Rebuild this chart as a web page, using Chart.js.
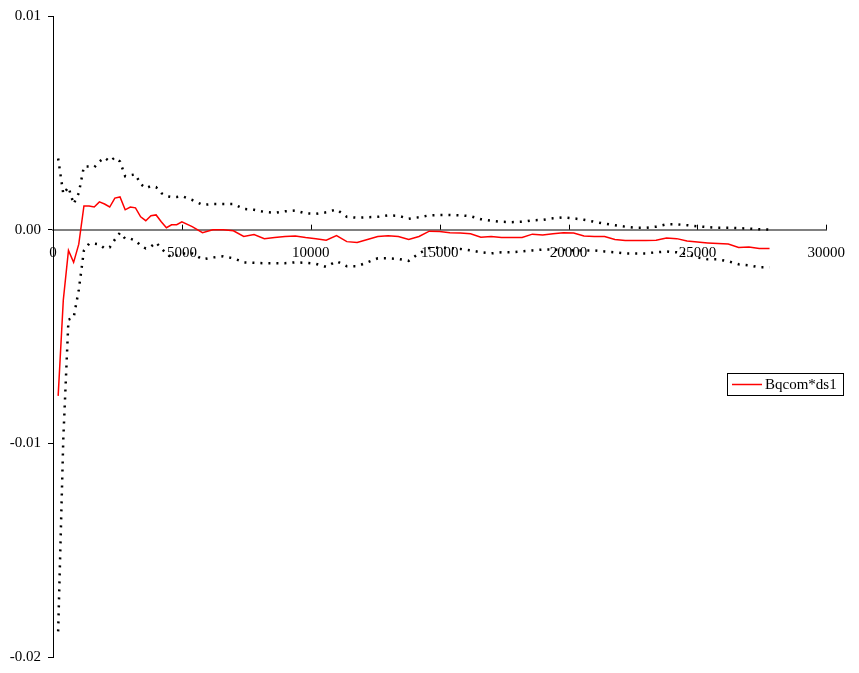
<!DOCTYPE html>
<html>
<head>
<meta charset="utf-8">
<script src="https://cdn.jsdelivr.net/npm/chart.js"></script>
<style>
    html, body { margin: 0; padding: 0; background: #fff; }
    #wrap { width: 859px; height: 673px; }
</style>
</head>
<body>
<div id="wrap"><canvas id="chart" width="859" height="673"></canvas></div>
<script>
// x positions of the samples
const xs = [200, 400, 600, 800, 1000, 1200, 1400, 1600, 1800, 2000, 2200, 2400, 2600, 2800, 3000,
    3200, 3400, 3600, 3800, 4000, 4200, 4400, 4600, 4800, 5000, 5400, 5800, 6200, 6600, 7000,
    7400, 7800, 8200, 8600, 9000, 9400, 9800, 10200, 10600, 11000, 11400, 11800, 12200, 12600,
    13000, 13400, 13800, 14200, 14600, 15000, 15400, 15800, 16200, 16600, 17000, 17400, 17800,
    18200, 18600, 19000, 19400, 19800, 20200, 20600, 21000, 21400, 21800, 22200, 22600, 23000,
    23400, 23800, 24200, 24600, 25000, 25400, 25800, 26200, 26600, 27000, 27400, 27800];

// Bqcom*ds1 (red line)
const bqcom = [-0.00778, -0.00329, -0.00097, -0.00153, -0.00068, 0.00111, 0.00111, 0.00106, 0.00130,
    0.00120, 0.00106, 0.00148, 0.00153, 0.00093, 0.00106, 0.00102, 0.00060, 0.00042, 0.00065,
    0.00069, 0.00037, 0.00009, 0.00023, 0.00023, 0.00037, 0.00014, -0.00014, 0.00000, 0.00000,
    -0.00005, -0.00032, -0.00023, -0.00042, -0.00037, -0.00032, -0.00030, -0.00037, -0.00042,
    -0.00049, -0.00028, -0.00056, -0.00060, -0.00046, -0.00032, -0.00028, -0.00032, -0.00046,
    -0.00032, -0.00007, -0.00009, -0.00014, -0.00016, -0.00019, -0.00035, -0.00032, -0.00037,
    -0.00037, -0.00037, -0.00021, -0.00025, -0.00019, -0.00014, -0.00016, -0.00030, -0.00032,
    -0.00032, -0.00046, -0.00051, -0.00051, -0.00051, -0.00049, -0.00039, -0.00042, -0.00053,
    -0.00058, -0.00062, -0.00065, -0.00067, -0.00083, -0.00081, -0.00088, -0.00088];

// upper bound (black dotted)
const upper = [0.00333, 0.00167, 0.00199, 0.00120, 0.00171, 0.00296, 0.00296, 0.00292, 0.00319,
    0.00338, 0.00319, 0.00338, 0.00319, 0.00250, 0.00255, 0.00259, 0.00213, 0.00194, 0.00204,
    0.00199, 0.00171, 0.00157, 0.00153, 0.00153, 0.00157, 0.00139, 0.00116, 0.00120, 0.00120,
    0.00120, 0.00097, 0.00093, 0.00083, 0.00079, 0.00086, 0.00090, 0.00076, 0.00074, 0.00081,
    0.00095, 0.00060, 0.00056, 0.00058, 0.00060, 0.00067, 0.00065, 0.00051, 0.00058, 0.00067,
    0.00069, 0.00069, 0.00067, 0.00063, 0.00049, 0.00042, 0.00037, 0.00035, 0.00037, 0.00044,
    0.00046, 0.00053, 0.00058, 0.00053, 0.00046, 0.00037, 0.00028, 0.00021, 0.00014, 0.00009,
    0.00009, 0.00014, 0.00025, 0.00025, 0.00021, 0.00016, 0.00012, 0.00009, 0.00009, 0.00007,
    0.00005, 0.00002, 0.00000];

// lower bound (black dotted)
const lower = [-0.01880, -0.00977, -0.00421, -0.00412, -0.00282, -0.00097, -0.00065, -0.00065,
    -0.00069, -0.00088, -0.00083, -0.00046, -0.00014, -0.00042, -0.00042, -0.00051, -0.00074,
    -0.00088, -0.00079, -0.00060, -0.00088, -0.00111, -0.00130, -0.00120, -0.00111, -0.00111,
    -0.00139, -0.00130, -0.00125, -0.00134, -0.00153, -0.00155, -0.00157, -0.00157, -0.00157,
    -0.00153, -0.00155, -0.00160, -0.00174, -0.00148, -0.00171, -0.00171, -0.00153, -0.00134,
    -0.00134, -0.00137, -0.00146, -0.00111, -0.00086, -0.00083, -0.00086, -0.00090, -0.00097,
    -0.00106, -0.00111, -0.00106, -0.00106, -0.00102, -0.00097, -0.00093, -0.00093, -0.00095,
    -0.00097, -0.00097, -0.00097, -0.00102, -0.00106, -0.00111, -0.00111, -0.00111, -0.00106,
    -0.00102, -0.00106, -0.00116, -0.00130, -0.00139, -0.00139, -0.00148, -0.00162, -0.00167,
    -0.00176, -0.00176];

// axis ranges
const xMin = 0, xMax = 30000, xStep = 5000;
const yMin = -0.02, yMax = 0.01, yStep = 0.01;

const FONT = 'Liberation Serif, Times New Roman, serif';

function toPoints(ys) {
    return xs.map((x, i) => ({ x: x, y: ys[i] }));
}

// small tick marks pointing up from the x axis, plus the boxed legend on the right
const extras = {
    id: 'extras',
    afterDraw(chart) {
        const ctx = chart.ctx;
        const xScale = chart.scales.x;
        const y0 = chart.scales.y.getPixelForValue(0);
        ctx.save();
        ctx.strokeStyle = '#000';
        ctx.lineWidth = 1;
        for (let v = xMin + xStep; v <= xMax; v += xStep) {
            const px = Math.round(xScale.getPixelForValue(v)) + 0.5;
            ctx.beginPath();
            ctx.moveTo(px, y0 - 5);
            ctx.lineTo(px, y0);
            ctx.stroke();
        }

        // legend
        const ds = chart.data.datasets[0];
        const bx = 727, by = 373, bw = 116, bh = 22;
        ctx.fillStyle = '#fff';
        ctx.fillRect(bx, by, bw, bh);
        ctx.strokeStyle = '#000';
        ctx.strokeRect(bx + 0.5, by + 0.5, bw, bh);
        ctx.strokeStyle = ds.borderColor;
        ctx.lineWidth = 1.5;
        ctx.beginPath();
        ctx.moveTo(bx + 5, by + 11.5);
        ctx.lineTo(bx + 35, by + 11.5);
        ctx.stroke();
        ctx.fillStyle = '#000';
        ctx.font = '15px ' + FONT;
        ctx.textBaseline = 'middle';
        ctx.textAlign = 'left';
        ctx.fillText(ds.label, bx + 38, by + 12);
        ctx.restore();
    }
};

const chart = new Chart(document.getElementById('chart'), {
    type: 'line',
    data: {
        datasets: [
            {
                label: 'Bqcom*ds1',
                data: toPoints(bqcom),
                borderColor: '#ff0000',
                borderWidth: 1.5,
                pointRadius: 0,
                tension: 0
            },
            {
                label: 'upper',
                data: toPoints(upper),
                borderColor: '#000',
                borderWidth: 2.5,
                borderDash: [2, 6],
                pointRadius: 0,
                tension: 0
            },
            {
                label: 'lower',
                data: toPoints(lower),
                borderColor: '#000',
                borderWidth: 2.5,
                borderDash: [2, 6],
                pointRadius: 0,
                tension: 0
            }
        ]
    },
    options: {
        responsive: false,
        animation: false,
        layout: { padding: { left: 0, top: 13, right: 21, bottom: 12 } },
        plugins: {
            legend: { display: false },
            tooltip: { enabled: false }
        },
        scales: {
            x: {
                type: 'linear',
                min: xMin,
                max: xMax,
                position: { y: 0 },
                z: 1,
                afterFit: s => { s.height = 0; },
                border: { color: '#808080', width: 2 },
                grid: { drawOnChartArea: false, drawTicks: false },
                ticks: {
                    stepSize: xStep,
                    maxRotation: 0,
                    padding: 14,
                    color: '#000',
                    font: { family: FONT, size: 15 },
                    showLabelBackdrop: true,
                    backdropColor: '#fff',
                    backdropPadding: { top: 0, bottom: 0, left: 1, right: 1 },
                    callback: v => String(v)
                }
            },
            y: {
                type: 'linear',
                min: yMin,
                max: yMax,
                afterFit: s => { s.width = 53; },
                border: { color: '#000', width: 1 },
                grid: { drawOnChartArea: false, drawTicks: true, tickLength: 5, color: '#000' },
                ticks: {
                    stepSize: yStep,
                    padding: 7,
                    color: '#000',
                    font: { family: FONT, size: 15 },
                    callback: v => Number(v).toFixed(2)
                }
            }
        }
    },
    plugins: [extras]
});
</script>
</body>
</html>
